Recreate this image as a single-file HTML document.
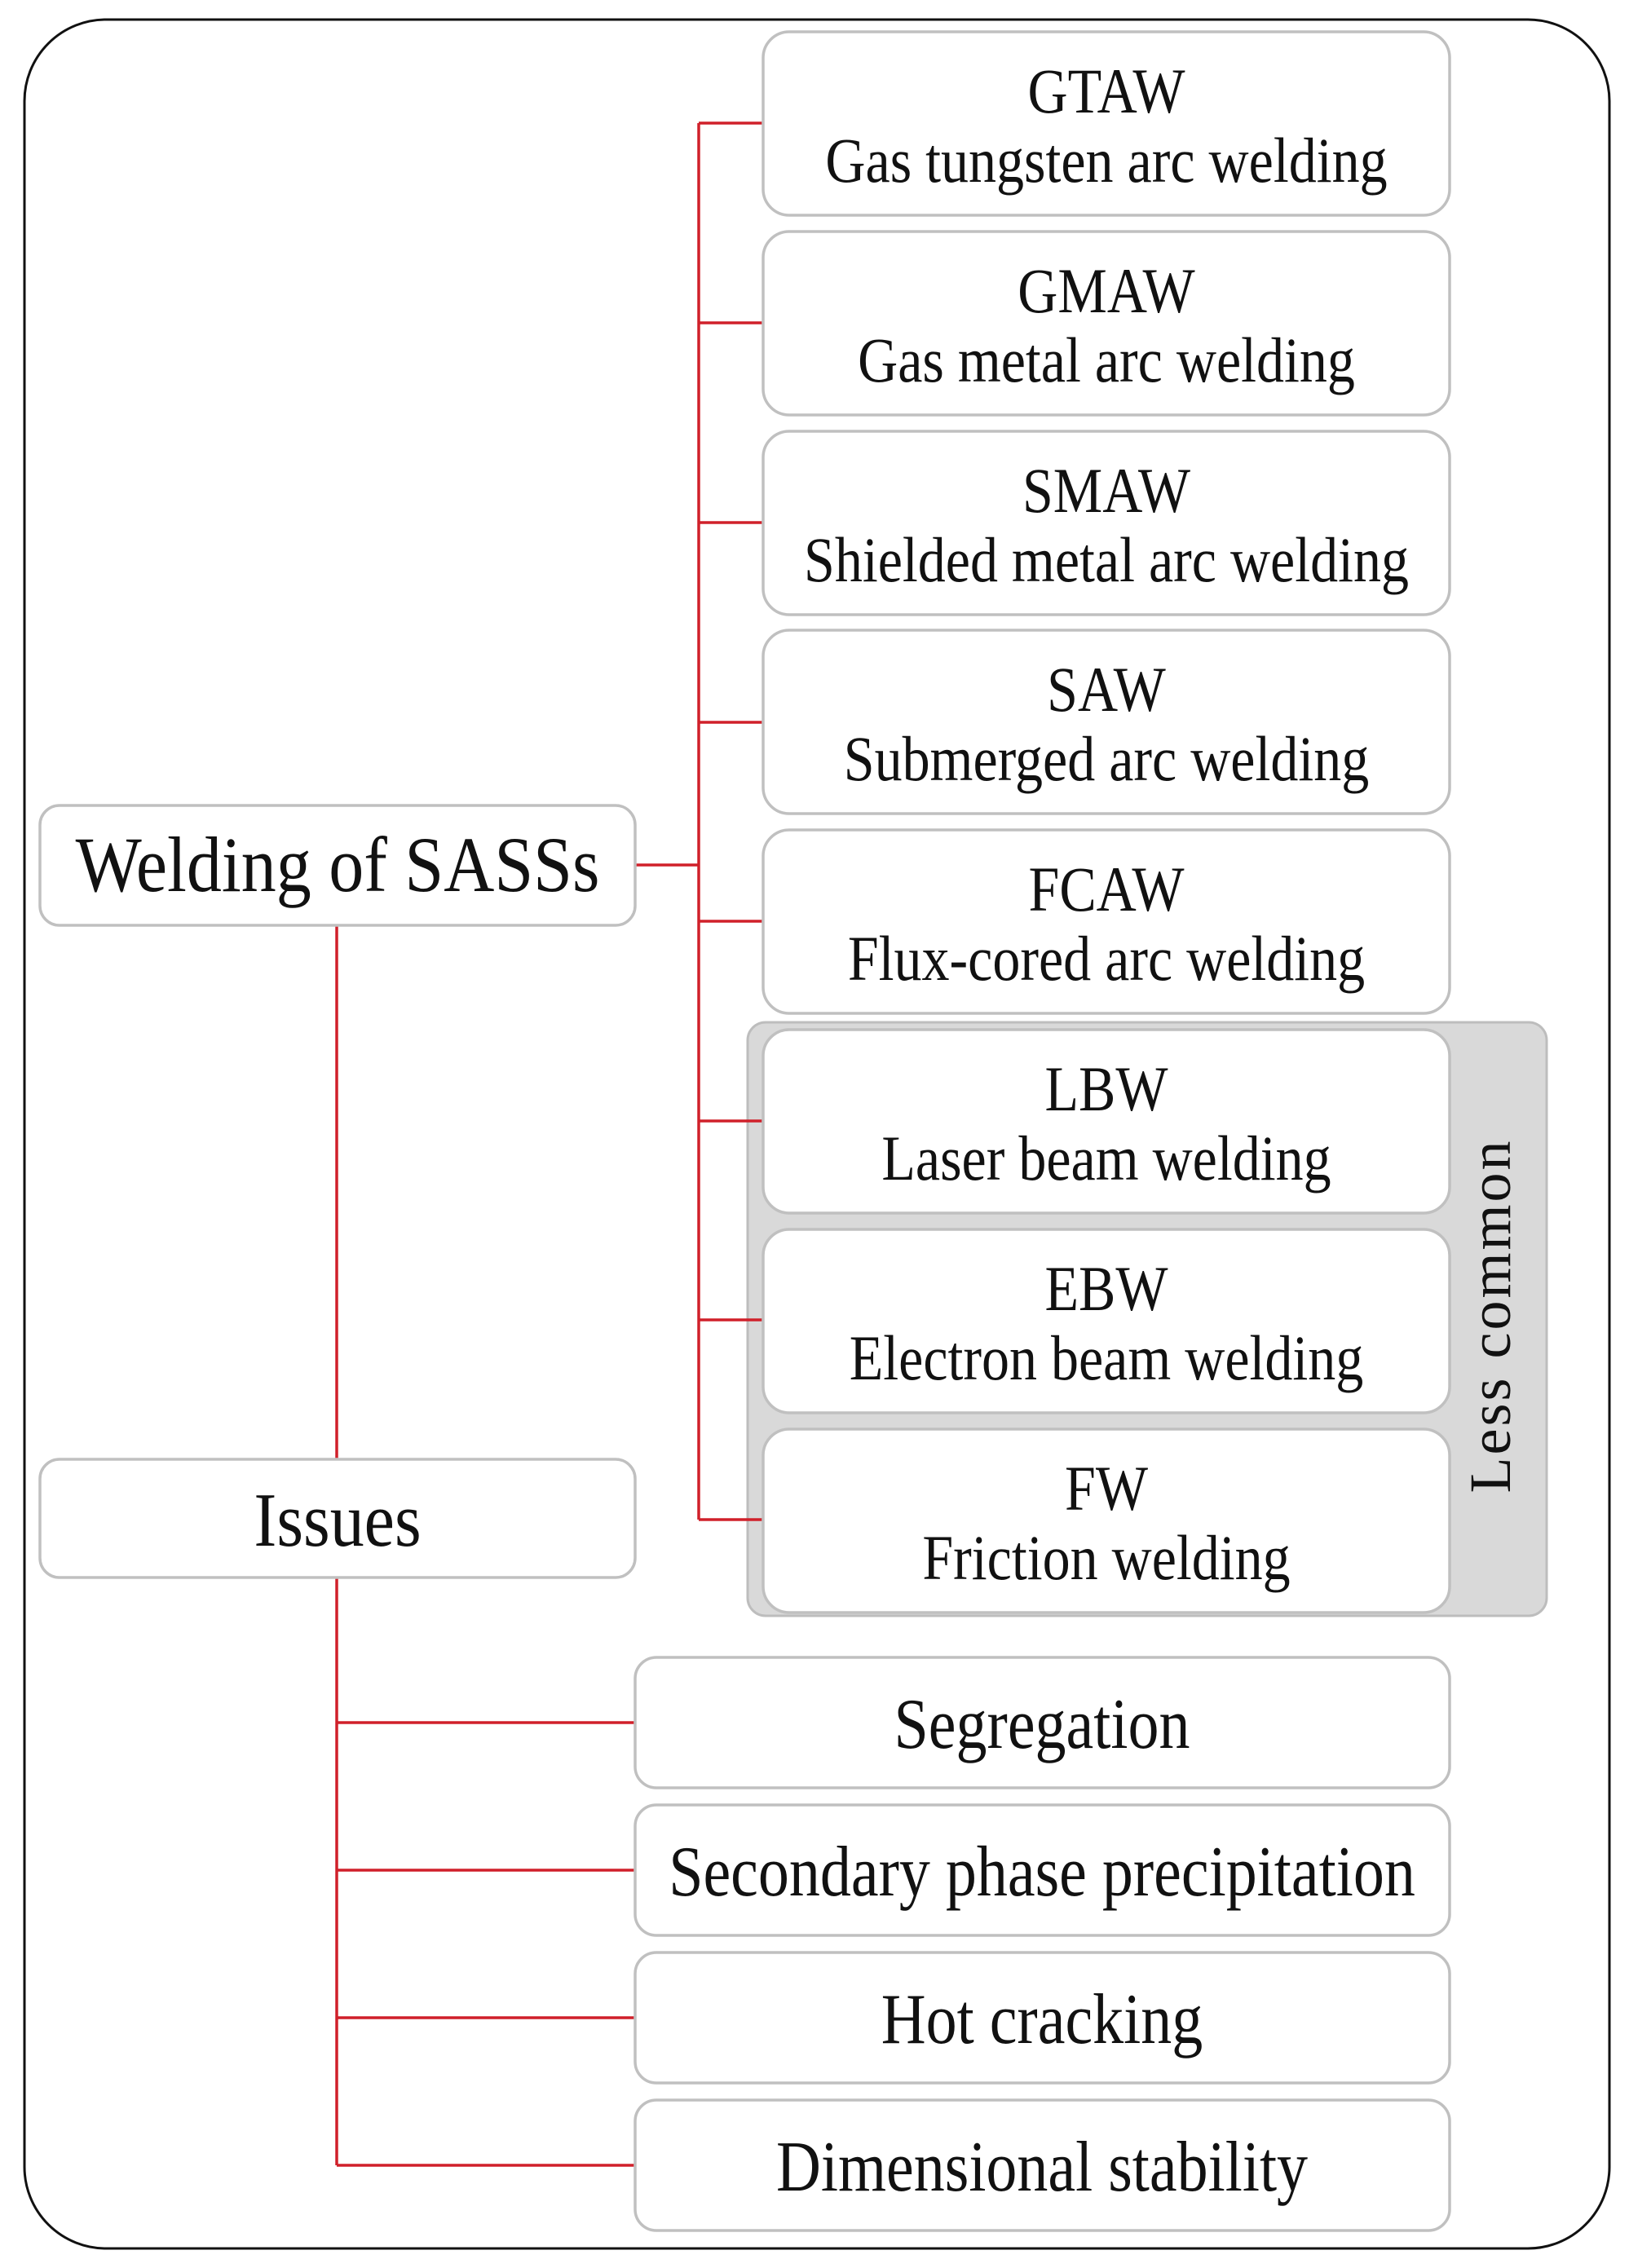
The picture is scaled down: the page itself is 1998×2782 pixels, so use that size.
<!DOCTYPE html>
<html><head><meta charset="utf-8"><style>
html,body{margin:0;padding:0;background:#fff;}
svg{display:block;}
text{font-family:"Liberation Serif",serif;fill:#111;}
</style></head><body>
<svg width="1998" height="2782" viewBox="0 0 1998 2782" xmlns="http://www.w3.org/2000/svg">
<rect x="30" y="24" width="1944" height="2734" rx="100" fill="#fff" stroke="#111" stroke-width="3"/>
<rect x="917" y="1254" width="980" height="728" rx="22" fill="#d9d9d9" stroke="#bdbdbd" stroke-width="3"/>
<g stroke="#d0202a" stroke-width="3.5" fill="none">
<path d="M857 151 V1864"/>
<path d="M777 1061 H857"/>
<path d="M857 151 H936 M857 396 H936 M857 641 H936 M857 886 H936 M857 1130 H936 M857 1375 H936 M857 1619 H936 M857 1864 H936"/>
<path d="M413 1135 V1790 M413 1935 V2656"/>
<path d="M413 2113 H779 M413 2294 H779 M413 2475 H779 M413 2656 H779"/>
</g>
<g fill="#fff" stroke="#c0c0c0" stroke-width="3.5">
<rect x="936" y="39" width="842" height="225" rx="32"/>
<rect x="936" y="284" width="842" height="225" rx="32"/>
<rect x="936" y="529" width="842" height="225" rx="32"/>
<rect x="936" y="773" width="842" height="225" rx="32"/>
<rect x="936" y="1018" width="842" height="225" rx="32"/>
<rect x="936" y="1263" width="842" height="225" rx="32"/>
<rect x="936" y="1508" width="842" height="225" rx="32"/>
<rect x="936" y="1753" width="842" height="225" rx="32"/>
<rect x="49" y="988" width="730" height="147" rx="24"/>
<rect x="49" y="1790" width="730" height="145" rx="24"/>
<rect x="779" y="2033" width="999" height="160" rx="26"/>
<rect x="779" y="2214" width="999" height="160" rx="26"/>
<rect x="779" y="2395" width="999" height="160" rx="26"/>
<rect x="779" y="2576" width="999" height="160" rx="26"/>
</g>
<g font-size="68" text-anchor="middle">
<text transform="translate(1357,138) scale(1,1.15)">GTAW</text>
<text transform="translate(1357,223) scale(1,1.15)">Gas tungsten arc welding</text>
<text transform="translate(1357,383) scale(1,1.15)">GMAW</text>
<text transform="translate(1357,468) scale(1,1.15)">Gas metal arc welding</text>
<text transform="translate(1357,628) scale(1,1.15)">SMAW</text>
<text transform="translate(1357,713) scale(1,1.15)">Shielded metal arc welding</text>
<text transform="translate(1357,872) scale(1,1.15)">SAW</text>
<text transform="translate(1357,957) scale(1,1.15)">Submerged arc welding</text>
<text transform="translate(1357,1117) scale(1,1.15)">FCAW</text>
<text transform="translate(1357,1202) scale(1,1.15)">Flux-cored arc welding</text>
<text transform="translate(1357,1362) scale(1,1.15)">LBW</text>
<text transform="translate(1357,1447) scale(1,1.15)">Laser beam welding</text>
<text transform="translate(1357,1607) scale(1,1.15)">EBW</text>
<text transform="translate(1357,1692) scale(1,1.15)">Electron beam welding</text>
<text transform="translate(1357,1852) scale(1,1.15)">FW</text>
<text transform="translate(1357,1937) scale(1,1.15)">Friction welding</text>
</g>
<g font-size="76" text-anchor="middle">
<text transform="translate(1278,2144) scale(1,1.15)">Segregation</text>
<text transform="translate(1278,2325) scale(1,1.15)">Secondary phase precipitation</text>
<text transform="translate(1278,2506) scale(1,1.15)">Hot cracking</text>
<text transform="translate(1278,2687) scale(1,1.15)">Dimensional stability</text>
<text transform="translate(414,1093) scale(1,1.12)" font-size="86">Welding of SASSs</text>
<text transform="translate(414,1896) scale(1,1.12)" font-size="84">Issues</text>
</g>
<text transform="translate(1852,1614) rotate(-90)" font-size="72" letter-spacing="3" text-anchor="middle">Less common</text>
</svg>
</body></html>
